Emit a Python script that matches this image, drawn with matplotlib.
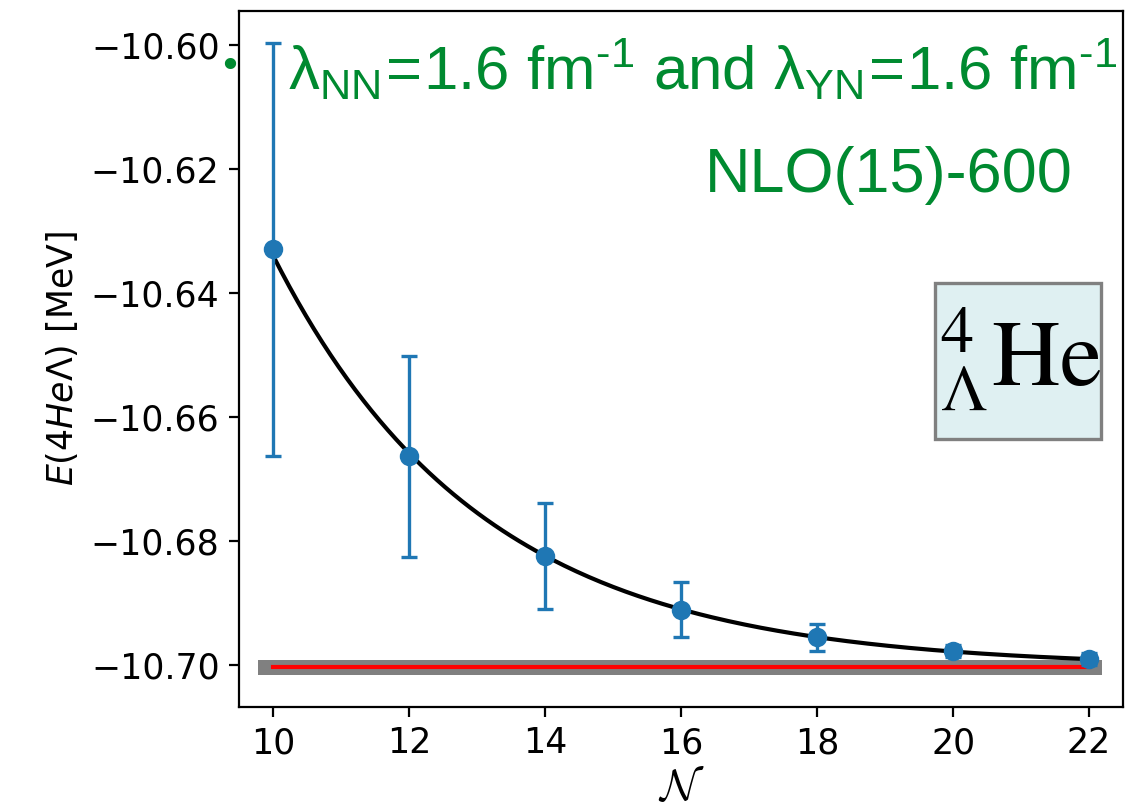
import numpy as np
from matplotlib import pyplot as plt
from matplotlib.patches import Rectangle

plt.rcParams['mathtext.rm'] = 'Liberation Sans'
plt.rcParams['mathtext.it'] = 'Liberation Sans:italic'
plt.rcParams['mathtext.bf'] = 'Liberation Sans:bold'

# Datos
N = [10, 12, 14, 16, 18, 20, 22]
energia = [-10.6330, -10.6663, -10.6824, -10.6910, -10.6955, -10.6977, -10.6990]
error = [0.0333, 0.0162, 0.0085, 0.0045, 0.0022, 0.0010, 0.0010]
E_inf = -10.7003
E_inf_err = 0.0012
banda_x = [9.78, 22.19]

verde = '#008a30'
azul = '#1f77b4'

fig = plt.figure(figsize=(5.73, 4.045), dpi=200)
ax = fig.add_axes([0.2086, 0.1261, 0.7714, 0.8603])

# banda de incertidumbre y valor extrapolado
ax.fill_between(banda_x, E_inf - E_inf_err, E_inf + E_inf_err, color='gray', lw=0)
ax.plot([N[0], N[-1]], [E_inf, E_inf], color='red', lw=1.5)

# ajuste exponencial E(N) = E_inf + A exp(-b N)
N_arr = np.array(N)
pend, ordo = np.polyfit(N_arr, np.log(np.array(energia) - E_inf), 1)
N_fino = np.linspace(N[0], N[-1], 200)
ax.plot(N_fino, E_inf + np.exp(ordo + pend * N_fino), color='black', lw=1.5)

ax.errorbar(N, energia, yerr=error, fmt='o', color=azul, ms=6, elinewidth=1.2,
            capsize=3, capthick=1.2)

ax.set_xlim(9.5, 22.5)
ax.set_ylim(-10.7067, -10.5946)
ax.set_xticks([10, 12, 14, 16, 18, 20, 22])
ax.set_yticks([-10.60, -10.62, -10.64, -10.66, -10.68, -10.70])
ax.tick_params(labelsize=12.5)
ax.set_xlabel(r'$\mathcal{N}$', fontsize=16, math_fontfamily='cm', labelpad=2)
ax.set_ylabel(r'$\mathit{E(4He\Lambda)}$ [MeV]', fontsize=12.5)

ax.text(0.0554, 0.8865,
        r'$\mathrm{λ_{NN}\!=\!1.6\ fm^{\text{-}1}\ and\ λ_{YN}\!=\!1.6\ fm^{\text{-}1}}$',
        transform=ax.transAxes, color=verde, fontsize=22.3, va='baseline',
        math_fontfamily='custom')
ax.text(-0.0102, 0.9195, '•', transform=ax.transAxes, color=verde, fontsize=14,
        ha='center', va='center', clip_on=False)
ax.text(0.943, 0.740, 'NLO(15)-600', transform=ax.transAxes, color=verde,
        fontsize=22.7, family='Liberation Sans', ha='right', va='baseline')

# recuadro del hipernucleo
ax.add_patch(Rectangle((0.787, 0.385), 0.1878, 0.224, transform=ax.transAxes,
                       fc='#dff0f2', ec='gray', lw=1.2, zorder=3))
ax.text(0.792, 0.461, r'${}^{4}_{\Lambda}\mathrm{He}$', transform=ax.transAxes,
        fontsize=34, math_fontfamily='stix', ha='left', va='baseline', zorder=4)

fig.savefig('out.png', dpi=200)
